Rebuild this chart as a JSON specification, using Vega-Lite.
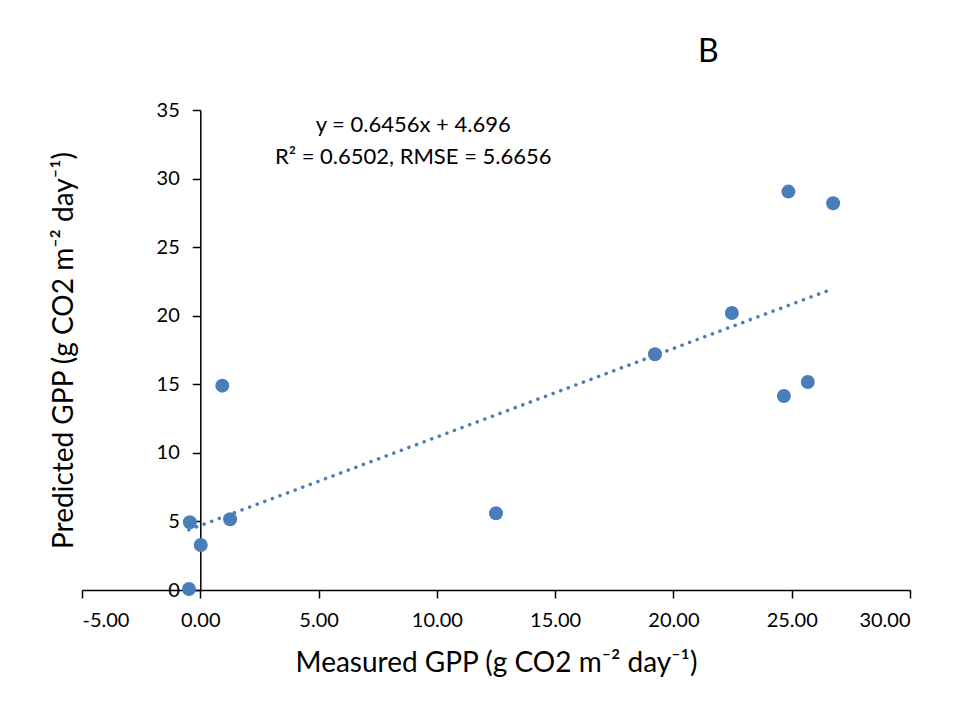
{
  "$schema": "https://vega.github.io/schema/vega-lite/v6.json",
  "autosize": "none",
  "width": 828,
  "height": 480,
  "padding": {"left": 82, "top": 110, "right": 44, "bottom": 119},
  "background": "white",
  "config": {
    "view": {"stroke": null},
    "font": "Lato",
    "axis": {"grid": false, "domainColor": "#000000", "tickColor": "#000000", "labelColor": "#000000", "titleColor": "#000000", "labelFont": "Lato", "titleFont": "Lato", "labelFontWeight": "normal", "titleFontWeight": "normal", "domainWidth": 1.5, "tickWidth": 1.5, "tickSize": 8}
  },
  "datasets": {
    "pts": [
      {"measured": -0.48, "predicted": 0.07},
      {"measured": -0.44, "predicted": 4.94},
      {"measured": 0.02, "predicted": 3.28},
      {"measured": 0.93, "predicted": 14.9},
      {"measured": 1.26, "predicted": 5.16},
      {"measured": 12.5, "predicted": 5.6},
      {"measured": 19.22, "predicted": 17.19},
      {"measured": 22.47, "predicted": 20.2},
      {"measured": 24.67, "predicted": 14.15},
      {"measured": 24.86, "predicted": 29.05},
      {"measured": 25.68, "predicted": 15.17},
      {"measured": 26.75, "predicted": 28.2}
    ],
    "trend": [
      {"measured": -0.48, "predicted": 4.39},
      {"measured": 26.75, "predicted": 21.97}
    ],
    "notes": [
      {"x": 9.0, "y": 33.9, "label": "y = 0.6456x + 4.696", "size": 22},
      {"x": 9.0, "y": 31.6, "label": "R² = 0.6502, RMSE = 5.6656", "size": 22},
      {"x": 21.48, "y": 39.2, "label": "B", "size": 32}
    ]
  },
  "layer": [
    {
      "data": {"name": "trend"},
      "mark": {"type": "line", "color": "#4a7ebb", "strokeWidth": 3.5, "strokeDash": [0.1, 8], "strokeCap": "round"},
      "encoding": {
        "x": {
          "field": "measured", "type": "quantitative",
          "scale": {"domain": [-5, 30], "nice": false, "zero": false},
          "axis": {
            "values": [-5, 0, 5, 10, 15, 20, 25, 30],
            "labelExpr": "replace(format(datum.value, '.2f'), '\u2212', '-')",
            "labelFontSize": 20, "labelPadding": 12,
            "title": "Measured GPP (g CO2 m\u207b\u00b2 day\u207b\u00b9)",
            "titleFontSize": 28, "titleY": 73, "titleBaseline": "middle"
          }
        },
        "y": {
          "field": "predicted", "type": "quantitative",
          "scale": {"domain": [0, 35], "nice": false},
          "axis": {
            "values": [0, 5, 10, 15, 20, 25, 30, 35],
            "format": "d",
            "offset": -118.3,
            "labelFontSize": 20, "labelPadding": 13,
            "title": "Predicted GPP (g CO2 m\u207b\u00b2 day\u207b\u00b9)",
            "titleFontSize": 28, "titleX": -136, "titleY": 240, "titleAngle": -90, "titleAlign": "center", "titleBaseline": "middle"
          }
        }
      }
    },
    {
      "data": {"name": "pts"},
      "mark": {"type": "circle", "color": "#4a7ebb", "opacity": 1, "size": 195},
      "encoding": {
        "x": {"field": "measured", "type": "quantitative"},
        "y": {"field": "predicted", "type": "quantitative"}
      }
    },
    {
      "data": {"name": "notes"},
      "mark": {"type": "text", "color": "#000000", "align": "center", "baseline": "middle", "font": "Lato"},
      "encoding": {
        "x": {"field": "x", "type": "quantitative"},
        "y": {"field": "y", "type": "quantitative"},
        "text": {"field": "label"},
        "size": {"field": "size", "type": "quantitative", "scale": null}
      }
    }
  ]
}
